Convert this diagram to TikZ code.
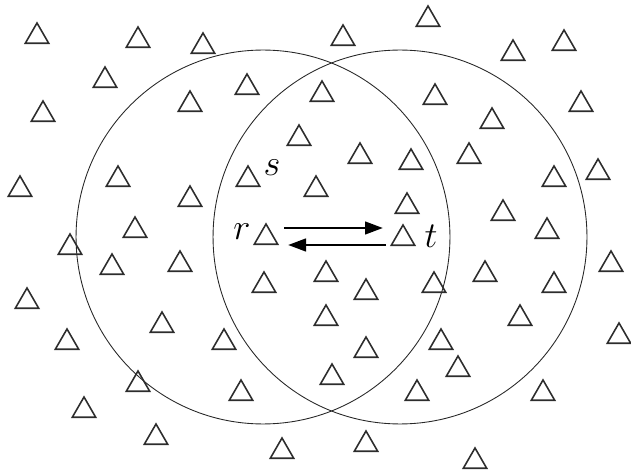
\documentclass[tikz,border=0pt]{standalone}
\usepackage{tikz}
\usetikzlibrary{arrows.meta, positioning, shapes.geometric, calc}
\definecolor{nodecol}{RGB}{45,45,45}
\definecolor{rangecol}{RGB}{40,40,40}
\tikzset{
  sensor/.style={regular polygon,regular polygon sides=3,draw=nodecol,line width=0.9pt,
    minimum size=0.54cm,inner sep=0pt,yshift=-0.07cm},
  rangecirc/.style={circle,draw=rangecol,line width=0.5pt,minimum size=7.48cm,inner sep=0pt},
  namelab/.style={font=\fontsize{20}{24}\selectfont,inner sep=0pt},
  linkarrow/.style={-{Triangle[length=0.36cm,width=0.25cm]},line width=1.6pt,black},
}

\begin{document}
\begin{tikzpicture}[x=0.02cm,y=-0.02cm]
  \useasboundingbox (0,0) rectangle (631,472);
  % transmission ranges
  \node[rangecirc] (rngR) at (263,237) {};
  \node[rangecirc] (rngT) at (400,237) {};
  % other nodes
  \foreach \px/\py [count=\i] in {
    37/33, 138/37, 203/43, 105/77, 43/111, 190/101, 247/84, 299/135,
    20/186, 118/176, 190/196, 135/227, 70/244, 316/186,
    428/16, 343/35, 513/50, 564/40, 322/91, 435/94, 492/118, 581/101,
    360/153, 411/159, 469/153, 554/176, 598/169, 407/203, 503/210, 547/228,
    112/264, 180/261, 264/282, 27/298, 162/322, 67/339, 224/339,
    138/381, 241/390, 84/407, 156/434, 282/448,
    611/261, 326/271, 366/289, 434/282, 485/271, 554/282, 326/315, 520/315,
    619/333, 441/339, 366/347, 458/366, 332/374, 417/390, 543/390,
    366/441, 475/458}
    \node[sensor] (n\i) at (\px,\py) {};
  % the three named nodes
  \node[sensor] (s) at (248,176) {};
  \node[sensor] (r) at (266,234) {};
  \node[sensor] (t) at (403,235) {};
  \node[namelab] (slab) at (272,168) {$s$};
  \node[namelab] (rlab) at (242,232) {$r$};
  \node[namelab] (tlab) at (431,236) {$t$};
  % links
  \draw[linkarrow] ($(r)+(18,-9.5)$) -- ($(t)+(-20,-10.5)$);
  \draw[linkarrow] ($(t)+(-17,6.5)$) -- ($(r)+(22,7.5)$);
\end{tikzpicture}
\end{document}
